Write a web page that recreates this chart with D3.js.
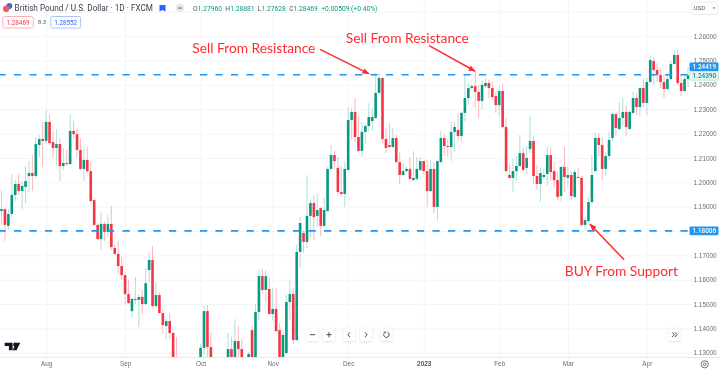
<!DOCTYPE html>
<html>
<head>
<meta charset="utf-8">
<script src="https://cdn.jsdelivr.net/npm/d3@7"></script>
<style>
  html, body { margin: 0; padding: 0; background: #fff; overflow: hidden; }
  svg { display: block; font-family: Roboto, sans-serif; filter: blur(0.35px); }
  .axis .domain { display: none; }
  .axis text { fill: #6a6d78; font-size: 6.4px; }
  .grid line { stroke: #f4f5f7; }
  .grid .domain, .grid text { display: none; }
  .note { fill: #ff2b30; font-family: Lato, sans-serif; font-size: 13.75px; }
</style>
</head>
<body>
<svg id="chart" width="720" height="371"></svg>
<script>
// GBPUSD daily candles (those below 1.13 are hidden and only estimated)
const opens = [
  1.1882,1.1890,1.1821,1.1870,1.1948,1.1993,1.1964,1.1981,1.2026,1.2038,
  1.2026,1.2153,1.2178,1.2170,1.2248,1.2165,1.2141,1.2157,1.2067,1.2079,
  1.2075,1.2211,1.2198,1.2133,1.2055,1.2092,1.2046,1.1927,1.1825,1.1767,
  1.1829,1.1796,1.1829,1.1730,1.1706,1.1656,1.1619,1.1541,1.1471,1.1521,
  1.1517,1.1529,1.1500,1.1640,1.1681,1.1492,1.1537,1.1463,1.1410,1.1430,
  1.1381,1.1250,1.1180,1.0860,1.0680,1.0730,1.0890,1.1100,1.1160,1.1320,
  1.1471,1.1324,1.1180,1.1090,1.1100,1.1190,1.1150,1.1315,1.1180,1.1348,
  1.1315,1.1230,1.1220,1.1393,1.1250,1.1467,1.1615,1.1558,1.1562,1.1459,
  1.1480,1.1393,1.1200,1.1299,1.1508,1.1541,1.1352,1.1714,1.1792,1.1755,
  1.1862,1.1915,1.1862,1.1894,1.1821,1.1882,1.2055,1.2112,1.2059,1.1960,
  1.1952,1.2051,1.2256,1.2289,1.2186,1.2129,1.2207,1.2231,1.2252,1.2264,
  1.2367,1.2428,1.2178,1.2153,1.2145,1.2182,1.2083,1.2030,1.2046,1.2055,
  1.2009,1.2014,1.2051,1.2087,1.2046,1.1964,1.2055,1.1899,1.2083,1.2182,
  1.2149,1.2145,1.2207,1.2215,1.2190,1.2285,1.2346,1.2387,1.2395,1.2371,
  1.2334,1.2395,1.2408,1.2387,1.2354,1.2317,1.2375,1.2227,1.2030,1.2018,
  1.2046,1.2067,1.2120,1.2059,1.2137,1.2170,1.2026,1.1993,1.2022,1.2034,
  1.2112,1.2046,1.2009,1.1944,1.2063,1.2018,1.2030,1.1940,1.2022,1.2018,
  1.1825,1.1841,1.1919,1.2046,1.2182,1.2153,1.2055,1.2108,1.2182,1.2280,
  1.2219,1.2264,1.2289,1.2219,1.2285,1.2346,1.2309,1.2387,1.2326,1.2412,
  1.2498,1.2461,1.2441,1.2412,1.2383,1.2424,1.2486,1.2523,1.2408,1.2375,
  1.2424
];
const highs = [
  1.1968,1.1894,1.1890,1.2034,1.2009,1.2038,1.2005,1.2067,1.2087,1.2112,
  1.2186,1.2194,1.2248,1.2297,1.2280,1.2207,1.2219,1.2182,1.2141,1.2133,
  1.2280,1.2252,1.2219,1.2182,1.2145,1.2145,1.2083,1.1931,1.1833,1.1878,
  1.1837,1.1866,1.1903,1.1743,1.1759,1.1693,1.1623,1.1599,1.1525,1.1611,
  1.1541,1.1558,1.1648,1.1714,1.1738,1.1591,1.1550,1.1480,1.1443,1.1463,
  1.1385,1.1365,1.1220,1.0900,1.0780,1.0920,1.1120,1.1240,1.1336,1.1492,
  1.1496,1.1381,1.1240,1.1200,1.1270,1.1260,1.1381,1.1365,1.1439,1.1410,
  1.1356,1.1270,1.1303,1.1410,1.1500,1.1640,1.1644,1.1640,1.1611,1.1566,
  1.1566,1.1422,1.1393,1.1541,1.1599,1.1566,1.1743,1.1857,1.1804,1.2030,
  1.1931,1.1944,1.1952,1.1899,1.1936,1.2063,1.2153,1.2129,1.2104,1.2067,
  1.2087,1.2309,1.2305,1.2346,1.2272,1.2248,1.2240,1.2326,1.2305,1.2449,
  1.2445,1.2432,1.2223,1.2244,1.2223,1.2194,1.2124,1.2079,1.2063,1.2104,
  1.2129,1.2104,1.2104,1.2089,1.2092,1.2092,1.2083,1.2089,1.2211,1.2198,
  1.2178,1.2248,1.2248,1.2285,1.2289,1.2441,1.2408,1.2404,1.2453,1.2400,
  1.2420,1.2428,1.2420,1.2416,1.2371,1.2395,1.2404,1.2264,1.2075,1.2096,
  1.2108,1.2194,1.2141,1.2149,1.2272,1.2186,1.2071,1.2063,1.2055,1.2149,
  1.2145,1.2083,1.2042,1.2067,1.2145,1.2067,1.2046,1.2055,1.2059,1.2026,
  1.1857,1.1940,1.2112,1.2202,1.2202,1.2186,1.2124,1.2207,1.2285,1.2285,
  1.2330,1.2346,1.2317,1.2297,1.2371,1.2367,1.2391,1.2424,1.2428,1.2523,
  1.2515,1.2490,1.2461,1.2441,1.2441,1.2498,1.2539,1.2547,1.2445,1.2445,
  1.2474
];
const lows = [
  1.1829,1.1759,1.1804,1.1857,1.1923,1.1948,1.1890,1.1915,1.1960,1.1964,
  1.2018,1.2104,1.2063,1.2157,1.2153,1.2100,1.2071,1.2005,1.2051,1.2067,
  1.2071,1.2182,1.2100,1.2051,1.2005,1.2038,1.1919,1.1821,1.1763,1.1722,
  1.1759,1.1775,1.1722,1.1701,1.1623,1.1599,1.1500,1.1500,1.1443,1.1500,
  1.1406,1.1459,1.1496,1.1586,1.1488,1.1484,1.1461,1.1377,1.1356,1.1356,
  1.1230,1.1130,1.0840,1.0350,1.0600,1.0540,1.0740,1.1030,1.1090,1.1278,
  1.1270,1.1100,1.1060,1.0990,1.1050,1.1060,1.1100,1.1150,1.1150,1.1230,
  1.1210,1.1160,1.1170,1.1230,1.1230,1.1435,1.1541,1.1504,1.1455,1.1435,
  1.1385,1.1170,1.1170,1.1295,1.1435,1.1336,1.1348,1.1648,1.1710,1.1730,
  1.1775,1.1763,1.1816,1.1779,1.1816,1.1878,1.2046,1.2055,1.1944,1.1944,
  1.1899,1.2046,1.2174,1.2165,1.2124,1.2104,1.2161,1.2207,1.2211,1.2260,
  1.2363,1.2161,1.2120,1.2141,1.2141,1.2079,1.1993,1.2026,1.2042,1.2005,
  1.2005,1.2005,1.2046,1.2034,1.1899,1.1960,1.1874,1.1841,1.2079,1.2108,
  1.2104,1.2087,1.2124,1.2170,1.2165,1.2248,1.2317,1.2383,1.2309,1.2264,
  1.2301,1.2387,1.2346,1.2338,1.2285,1.2272,1.2223,1.2042,1.2014,1.1960,
  1.2005,1.2063,1.2046,1.2034,1.2120,1.1993,1.1968,1.1919,1.2014,1.1985,
  1.2005,1.1977,1.1927,1.1923,1.1960,1.1981,1.1927,1.1936,1.2014,1.1821,
  1.1804,1.1833,1.1911,1.2042,1.2108,1.2009,1.2026,1.2092,1.2170,1.2190,
  1.2215,1.2231,1.2190,1.2215,1.2280,1.2276,1.2272,1.2309,1.2276,1.2408,
  1.2400,1.2412,1.2387,1.2346,1.2379,1.2420,1.2482,1.2400,1.2354,1.2371,
  1.2391
];
const closes = [
  1.1890,1.1825,1.1870,1.1948,1.1993,1.1964,1.1985,1.2005,1.2038,1.2026,
  1.2157,1.2178,1.2170,1.2248,1.2161,1.2141,1.2157,1.2067,1.2079,1.2075,
  1.2211,1.2198,1.2133,1.2055,1.2092,1.2046,1.1923,1.1825,1.1767,1.1829,
  1.1796,1.1829,1.1734,1.1706,1.1656,1.1619,1.1541,1.1504,1.1521,1.1517,
  1.1529,1.1500,1.1586,1.1681,1.1492,1.1537,1.1463,1.1414,1.1430,1.1381,
  1.1240,1.1180,1.0860,1.0680,1.0730,1.0890,1.1100,1.1160,1.1320,1.1471,
  1.1324,1.1180,1.1090,1.1100,1.1190,1.1170,1.1315,1.1180,1.1348,1.1315,
  1.1230,1.1220,1.1295,1.1250,1.1467,1.1615,1.1558,1.1615,1.1459,1.1480,
  1.1389,1.1200,1.1373,1.1508,1.1541,1.1352,1.1714,1.1833,1.1755,1.1862,
  1.1915,1.1857,1.1886,1.1821,1.1886,1.2055,1.2112,1.2087,1.1960,1.1952,
  1.2055,1.2256,1.2289,1.2186,1.2129,1.2207,1.2231,1.2268,1.2268,1.2367,
  1.2428,1.2178,1.2141,1.2145,1.2182,1.2083,1.2030,1.2046,1.2055,1.2014,
  1.2018,1.2055,1.2087,1.2046,1.1964,1.2055,1.1899,1.2087,1.2182,1.2149,
  1.2145,1.2207,1.2227,1.2190,1.2285,1.2346,1.2387,1.2395,1.2371,1.2334,
  1.2400,1.2408,1.2387,1.2350,1.2317,1.2375,1.2227,1.2046,1.2018,1.2046,
  1.2067,1.2120,1.2051,1.2100,1.2170,1.2026,1.1993,1.2038,1.2030,1.2112,
  1.2042,1.2009,1.1940,1.2063,1.2022,1.2030,1.1944,1.2042,1.2018,1.1825,
  1.1845,1.1919,1.2030,1.2182,1.2153,1.2055,1.2108,1.2174,1.2280,1.2223,
  1.2264,1.2289,1.2227,1.2289,1.2346,1.2309,1.2387,1.2326,1.2412,1.2502,
  1.2461,1.2441,1.2412,1.2383,1.2424,1.2486,1.2523,1.2408,1.2375,1.2424,
  1.2439
];

const priceTicks = [1.13, 1.14, 1.15, 1.16, 1.17, 1.18, 1.19, 1.20, 1.21, 1.22, 1.23, 1.24, 1.25, 1.26];
const gridPrices = priceTicks.concat([1.27]);
const monthIdx = [13, 36, 58, 79, 101, 123, 145, 165, 188];
const monthNames = ["Aug", "Sep", "Oct", "Nov", "Dec", "2023", "Feb", "Mar", "Apr"];
const levels = [1.24419, 1.18006];
const lastClose = 1.2439;
// [candle index, price] of the hand drawn arrows and notes
const arrows = [
  [92.8, 1.2546, 107.1, 1.2445],
  [124.6, 1.2561, 138, 1.2456],
  [181.4, 1.1682, 171.4, 1.1829]
];
const noteText = ["Sell From Resistance", "Sell From Resistance", "BUY From Support"];
const noteIdx = [55.6, 100.3, 164.1];
const notePrice = [1.2552, 1.2593, 1.1636];

const legendVals = [["O", "1.27960"], ["H", "1.28881"], ["L", "1.27628"], ["C", "1.28469"]];

const UP = "#089981", DOWN = "#f23645", BLUE = "#2196f3", NOTE = "#ff2b30";
const plotW = 692, plotH = 357;

const svg = d3.select("#chart");
const x = d3.scaleLinear().domain([0, 200]).range([1.5, 688]);
const y = d3.scaleLinear().domain([1.18, 1.26]).range([231, 36.2]);

svg.append("defs").append("clipPath").attr("id", "plot")
  .append("rect").attr("width", plotW).attr("height", plotH);
const defs = svg.select("defs");
defs.append("marker").attr("id", "head")
  .attr("viewBox", "0 0 10 8").attr("refX", 9.5).attr("refY", 4)
  .attr("markerWidth", 7).attr("markerHeight", 5.6).attr("orient", "auto")
  .attr("markerUnits", "userSpaceOnUse")
  .append("path").attr("d", "M0,0L10,4L0,8Z").attr("fill", NOTE);
const shadow = defs.append("filter").attr("id", "btn")
  .attr("x", "-30%").attr("y", "-30%").attr("width", "160%").attr("height", "160%");
shadow.append("feDropShadow").attr("dx", 0).attr("dy", 0.6).attr("stdDeviation", 0.9)
  .attr("flood-color", "#000").attr("flood-opacity", 0.16);

// grid
svg.append("g").attr("class", "grid")
  .call(d3.axisRight(y).tickValues(gridPrices).tickSize(plotW));
svg.append("g").attr("class", "grid")
  .call(d3.axisBottom(x).tickValues(monthIdx).tickSize(plotH));

// candles
const idx = d3.range(opens.length);
const plot = svg.append("g").attr("clip-path", "url(#plot)");
const color = i => closes[i] >= opens[i] ? UP : DOWN;
const wickColor = i => closes[i] >= opens[i] ? "#b3dfd8" : "#fbb9be";

plot.selectAll(".wick").data(idx).join("line")
  .attr("class", "wick")
  .attr("x1", i => x(i)).attr("x2", i => x(i))
  .attr("y1", i => y(highs[i])).attr("y2", i => y(lows[i]))
  .attr("stroke", wickColor).attr("stroke-width", 1);
plot.selectAll(".body").data(idx).join("rect")
  .attr("class", "body")
  .attr("x", i => x(i) - 1.3).attr("width", 2.6)
  .attr("y", i => y(Math.max(opens[i], closes[i])))
  .attr("height", i => Math.max(0.8, Math.abs(y(opens[i]) - y(closes[i]))))
  .attr("fill", color);

// support and resistance
svg.selectAll(".level").data(levels).join("line")
  .attr("class", "level")
  .attr("x1", -1.5).attr("x2", plotW)
  .attr("y1", d => y(d)).attr("y2", d => y(d))
  .attr("stroke", BLUE).attr("stroke-width", 1.6).attr("stroke-dasharray", "7.2 8.3");

// notes
svg.selectAll(".arrow").data(arrows).join("line")
  .attr("class", "arrow")
  .attr("x1", d => x(d[0])).attr("y1", d => y(d[1]))
  .attr("x2", d => x(d[2])).attr("y2", d => y(d[3]))
  .attr("stroke", NOTE).attr("stroke-width", 1.5).attr("marker-end", "url(#head)");
svg.selectAll(".note").data(noteText).join("text")
  .attr("class", "note")
  .attr("x", (d, i) => x(noteIdx[i])).attr("y", (d, i) => y(notePrice[i]))
  .attr("dy", "0.35em").text(d => d);

// axes
const yAxis = svg.append("g").attr("class", "axis")
  .attr("transform", `translate(${plotW},0)`)
  .call(d3.axisRight(y).tickValues(priceTicks).tickSize(0).tickPadding(1.5).tickFormat(d3.format(".5f")));
const xAxis = svg.append("g").attr("class", "axis")
  .attr("transform", `translate(0,${plotH})`)
  .call(d3.axisBottom(x).tickValues(monthIdx).tickSize(0).tickPadding(4)
    .tickFormat((d, i) => monthNames[i]));
xAxis.selectAll(".tick").filter((d, i) => monthNames[i] == "2023").select("text")
  .style("font-weight", 700).style("fill", "#50535e");
svg.append("line").attr("x1", 0).attr("x2", 720).attr("y1", plotH + 0.5).attr("y2", plotH + 0.5)
  .attr("stroke", "#e6e8ee");

// price tags on the right
const tag = (top, h, txt, fill, stroke, ink) => {
  svg.append("rect").attr("x", 689.5).attr("y", top).attr("width", 29).attr("height", h)
    .attr("rx", 1).attr("fill", fill).attr("stroke", stroke).attr("stroke-width", stroke == "none" ? 0 : 0.8);
  svg.append("text").attr("x", 692.5).attr("y", top + h / 2).attr("dy", "0.36em")
    .attr("font-size", 6.4).attr("font-weight", 500).attr("fill", ink).text(txt);
};
tag(62.4, 8.6, d3.format(".5f")(levels[0]), BLUE, "none", "#fff");
tag(71.6, 8.6, d3.format(".5f")(lastClose) , "#e6f5f2", "#b3dfd8", UP);
tag(y(levels[1]) - 4.3, 8.6, d3.format(".5f")(levels[1]), BLUE, "none", "#fff");

// header: symbol, flags, ohlc
const head = svg.append("g");
head.append("circle").attr("cx", 9.3).attr("cy", 6).attr("r", 3).attr("fill", "#3a6fd8");
head.append("circle").attr("cx", 6.2).attr("cy", 8.8).attr("r", 3.2).attr("fill", "#e35d6a");
head.append("text").attr("x", 14.6).attr("y", 10.8).attr("font-size", 8.2).attr("fill", "#3a3e4a")
  .text("British Pound / U.S. Dollar · 1D · FXCM");
head.append("path").attr("d", "M159.5,5H165.5V11.5L162.5,10L159.5,11.5Z").attr("fill", "#2962ff");
head.append("circle").attr("cx", 180).attr("cy", 8).attr("r", 4.4).attr("fill", "#e8e9ed");
head.append("rect").attr("x", 178).attr("y", 7.6).attr("width", 4).attr("height", 0.9).attr("fill", "#50535e");

const legend = head.append("text").attr("x", 193).attr("y", 11).attr("font-size", 6.7).attr("fill", UP);
legendVals.forEach(d => {
  legend.append("tspan").attr("fill", "#50535e").text(d[0]);
  legend.append("tspan").text(d[1] + "\u2002");
});
legend.append("tspan").text("+0.00509 (+0.40%)");

const chip = (left, w, txt, stroke, ink) => {
  head.append("rect").attr("x", left).attr("y", 16.5).attr("width", w).attr("height", 11.5)
    .attr("rx", 1.5).attr("fill", "#fff").attr("stroke", stroke).attr("stroke-width", 0.9);
  head.append("text").attr("x", left + w / 2).attr("y", 24.5).attr("text-anchor", "middle")
    .attr("font-size", 6.3).attr("fill", ink).text(txt);
};
chip(2.8, 30.5, "1.28469", "#f9a9b0", DOWN);
chip(50.8, 29.8, "1.28552", "#a5bfff", "#2962ff");
head.append("text").attr("x", 38).attr("y", 24.3).attr("font-size", 5.8).attr("fill", "#50535e").text("8.3");

// currency button
svg.append("rect").attr("x", 692).attr("y", 2).attr("width", 25.5).attr("height", 12.5)
  .attr("rx", 1.5).attr("fill", "#fff").attr("stroke", "#e6e8ee").attr("stroke-width", 0.8);
svg.append("text").attr("x", 693.5).attr("y", 10.4).attr("font-size", 6.2).attr("fill", "#50535e").text("USD");
svg.append("path").attr("d", "M712.8,7.6H715.2L714,9Z").attr("fill", "#50535e");

// floating zoom buttons
const btnX = [312.5, 329, 349, 366, 386.5];
const btnY = 334.7;
const btnG = svg.selectAll(".btn").data(btnX).join("g").attr("class", "btn")
  .attr("transform", d => `translate(${d},${btnY})`);
btnG.append("rect").attr("x", -6).attr("y", -6.2).attr("width", 12).attr("height", 12.4).attr("rx", 2)
  .attr("fill", "#fff").attr("filter", "url(#btn)");
const glyphs = ["M-2.6,0H2.6", "M-2.6,0H2.6M0,-2.6V2.6", "M1,-2.4L-1.2,0L1,2.4", "M-1,-2.4L1.2,0L-1,2.4",
  "M-1.6,-2.2A2.7,2.7 0 1 0 0.9,-2.5M-2.4,-3.4L-1.6,-2.2L-0.3,-2.8"];
btnG.append("path").attr("d", (d, i) => glyphs[i]).attr("fill", "none")
  .attr("stroke", "#363a45").attr("stroke-width", 0.9);

const goLast = svg.append("g").attr("transform", `translate(674.7,${btnY})`);
goLast.append("rect").attr("x", -6).attr("y", -6.2).attr("width", 12).attr("height", 12.4).attr("rx", 2)
  .attr("fill", "#fff").attr("filter", "url(#btn)");
goLast.append("path").attr("d", "M-2.6,-2.4L-0.4,0L-2.6,2.4M0.2,-2.4L2.4,0L0.2,2.4").attr("fill", "none")
  .attr("stroke", "#363a45").attr("stroke-width", 0.9);

// logo and settings gear
svg.append("path")
  .attr("d", "M4.7,342.8H12.6V350.2H8.9V346H4.7ZM16,342.8H20.2L16.6,350.2H12.6L14.4,346.6A1.9,1.9 0 1 1 16,342.8Z")
  .attr("fill", "#131722");
svg.append("circle").attr("cx", 704.7).attr("cy", 364.3).attr("r", 3.6).attr("fill", "none")
  .attr("stroke", "#50535e").attr("stroke-width", 0.8);
svg.append("circle").attr("cx", 704.7).attr("cy", 364.3).attr("r", 1.4).attr("fill", "none")
  .attr("stroke", "#50535e").attr("stroke-width", 0.7);
</script>
</body>
</html>
